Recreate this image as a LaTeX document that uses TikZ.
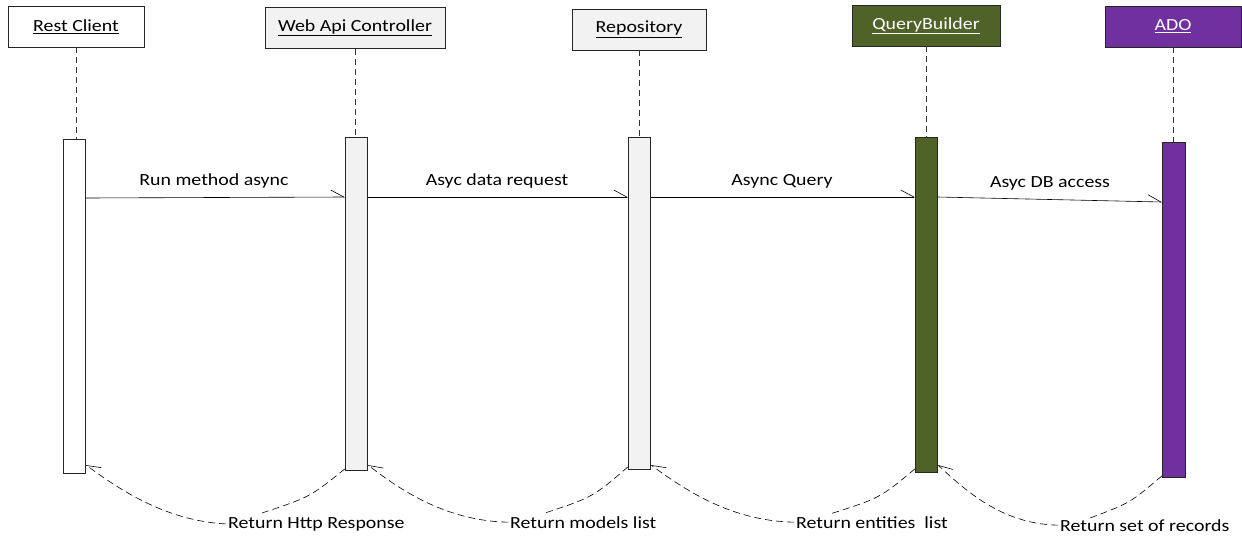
\documentclass[tikz,border=0pt]{standalone}
\usepackage{fontspec}
\setmainfont[FakeStretch=1.17]{Carlito}
\usetikzlibrary{arrows.meta,calc}
\definecolor{panelgray}{HTML}{F2F2F2}
\definecolor{qbfill}{HTML}{4F6228}
\definecolor{adofill}{HTML}{7030A0}
\begin{document}
\begin{tikzpicture}[x=1pt,y=-1pt,
  every node/.style={font=\fontsize{17}{20}\selectfont},
  head/.style={draw=black!85, line width=0.8pt, inner sep=0pt, minimum height=41pt},
  actbar/.style={draw=black!85, line width=0.8pt, inner sep=0pt, minimum width=22pt, anchor=north west},
  lifeline/.style={draw=black!80, dash pattern=on 6pt off 4pt, line width=0.7pt},
  msg/.style={line width=0.6pt, -{Straight Barb[left,length=13pt,width=14pt,line width=0.6pt]}},
  ret/.style={line width=0.6pt, dash pattern=on 7pt off 4pt},
  retarrow/.style={ret, -{Straight Barb[right,length=13pt,width=14pt,line width=0.6pt]}},
  msglbl/.style={anchor=base, inner sep=0pt},
  retlbl/.style={anchor=base west, inner sep=0pt}]
\useasboundingbox (0,0) rectangle (1242,536);

% participant heads
\node[head, fill=white, minimum width=136pt] (rc) at (76,26.5) {\underline{Rest Client}};
\node[head, fill=panelgray, minimum width=180pt] (wb) at (355,28) {\underline{Web Api Controller}};
\node[head, fill=panelgray, minimum width=134pt] (repo) at (639,29.5) {\underline{Repository}};
\node[head, fill=qbfill, minimum width=148pt, text=white] (qb) at (926,25.5) {\underline{QueryBuilder}};
\node[head, fill=adofill, minimum width=136pt, text=white] (ado) at (1173,26.5) {\underline{ADO}};

% activation bars
\node[actbar, fill=white, minimum height=334pt] (rcbar) at (63,139) {};
\node[actbar, fill=panelgray, minimum height=333pt] (wbbar) at (345,137) {};
\node[actbar, fill=panelgray, minimum height=332pt] (repobar) at (628,137) {};
\node[actbar, fill=qbfill, minimum height=335pt] (qbbar) at (915,137) {};
\node[actbar, fill=adofill, minimum height=335pt, minimum width=23pt] (adobar) at (1162,142) {};

% lifelines
\draw[lifeline] (rc.south) -- (rc.south |- rcbar.north);
\draw[lifeline] (wb.south) -- (wb.south |- wbbar.north);
\draw[lifeline] (repo.south) -- (repo.south |- repobar.north);
\draw[lifeline] (qb.south) -- (qb.south |- qbbar.north);
\draw[lifeline] (ado.south) -- (ado.south |- adobar.north);

% requests
\draw[msg] ($(rcbar.north east)+(0,59)$) -- ($(wbbar.north west)+(0,60)$);
\draw[msg] ($(wbbar.north east)+(0,60)$) -- ($(repobar.north west)+(0,60)$);
\draw[msg] ($(repobar.north east)+(0,60)$) -- ($(qbbar.north west)+(0,60)$);
\draw[msg] ($(qbbar.north east)+(0,60)$) -- ($(adobar.north west)+(0,60)$);
\node[msglbl] (m1) at (214,185) {Run method async};
\node[msglbl] (m2) at (497,185) {Asyc data request};
\node[msglbl] (m3) at (782,185) {Async Query};
\node[msglbl] (m4) at (1050,187) {Asyc DB access};

% replies
\node[retlbl] (r1) at (228,528) {Return Http Response};
\node[retlbl] (r2) at (510,528) {Return models list};
\node[retlbl] (r3) at (796,528) {Return entities\ \ list};
\node[retlbl] (r4) at (1060,531) {Return set of records};

\coordinate (r1top) at (262,513);
\coordinate (r2top) at (545,513);
\coordinate (r3top) at (830,514);
\coordinate (r4top) at (1090,518);

\draw[ret] ($(wbbar.south west)+(0,-2)$) .. controls (310,497) .. (r1top);
\draw[retarrow] ($(r1.west)+(-2,0)$) .. controls (170,521) and (125,494) .. ($(rcbar.south east)+(0,-9)$);

\draw[ret] ($(repobar.south west)+(0,-3)$) .. controls (593,497) .. (r2top);
\draw[retarrow] ($(r2.west)+(-2,0)$) .. controls (450,521) and (405,494) .. ($(wbbar.south east)+(0,-6)$);

\draw[ret] ($(qbbar.south west)+(0,-4)$) .. controls (880,498) .. (r3top);
\draw[retarrow] ($(r3.west)+(-2,0)$) .. controls (735,521) and (690,494) .. ($(repobar.south east)+(0,-5)$);

\draw[ret] ($(adobar.south west)+(0,-2)$) .. controls (1130,503) .. (r4top);
\draw[retarrow] ($(r4.west)+(-2,0)$) .. controls (1005,524) and (970,495) .. ($(qbbar.south east)+(0,-8)$);
\end{tikzpicture}
\end{document}
